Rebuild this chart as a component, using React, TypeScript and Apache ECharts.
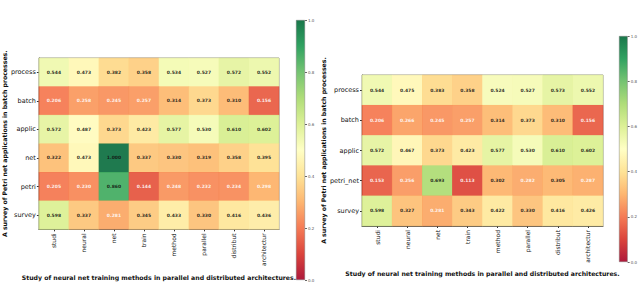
import React, { useEffect, useRef } from "react";
import * as echarts from "echarts";

const cols = ["studi", "neural", "net", "train", "method", "parallel", "distribut", "architectur"];
const rowsLeft = ["process", "batch", "applic", "net", "petri", "survey"];
const rowsRight = ["process", "batch", "applic", "petri_net", "survey"];

const valuesLeft = [
  [0.544, 0.473, 0.382, 0.358, 0.534, 0.527, 0.572, 0.552],
  [0.206, 0.258, 0.245, 0.257, 0.314, 0.373, 0.310, 0.156],
  [0.572, 0.487, 0.373, 0.423, 0.577, 0.530, 0.610, 0.602],
  [0.322, 0.473, 1.000, 0.337, 0.330, 0.319, 0.358, 0.395],
  [0.205, 0.230, 0.860, 0.144, 0.248, 0.232, 0.234, 0.298],
  [0.598, 0.337, 0.281, 0.345, 0.433, 0.330, 0.416, 0.436],
];

const valuesRight = [
  [0.544, 0.475, 0.383, 0.358, 0.524, 0.527, 0.573, 0.552],
  [0.206, 0.266, 0.245, 0.257, 0.314, 0.373, 0.310, 0.156],
  [0.572, 0.467, 0.373, 0.423, 0.577, 0.530, 0.610, 0.602],
  [0.153, 0.256, 0.693, 0.113, 0.302, 0.282, 0.305, 0.287],
  [0.598, 0.327, 0.281, 0.343, 0.422, 0.330, 0.416, 0.426],
];

const yTitle = "A survey of Petri net applications in batch processes.";
const xTitle = "Study of neural net training methods in parallel and distributed architectures.";
const colorbarTicks = [0, 0.2, 0.4, 0.6, 0.8, 1.0];

const RdYlGn = [
  "#a50026", "#d73027", "#f46d43", "#fdae61", "#fee08b", "#ffffbf",
  "#d9ef8b", "#a6d96a", "#66bd63", "#1a9850", "#006837",
];

const FONT = "DejaVu Sans";

function toCells(vals: number[][]) {
  const out: [number, number, number][] = [];
  vals.forEach((row, r) => row.forEach((v, c) => out.push([c, r, v])));
  return out;
}

export default function App() {
  const ref = useRef<HTMLDivElement>(null);
  useEffect(() => {
    document.body.style.margin = "0";
    const chart = echarts.init(ref.current!, null, { renderer: "svg" });

    const grads = () =>
      new echarts.graphic.LinearGradient(
        0, 1, 0, 0,
        RdYlGn.map((c, i) => ({ offset: i / (RdYlGn.length - 1), color: c }))
      );

    const heatX = (gridIndex: number, gap: number) => ({
      type: "category" as const,
      gridIndex,
      data: cols,
      name: xTitle,
      nameLocation: "middle" as const,
      nameGap: gap,
      nameTextStyle: { fontFamily: FONT, fontSize: 6.2, fontWeight: "bold" as const, color: "#111" },
      axisLine: { show: true, lineStyle: { color: "#555", width: 1 } },
      axisTick: { show: true, alignWithLabel: true, length: 2, lineStyle: { color: "#333" } },
      axisLabel: { rotate: 90, margin: 4, fontFamily: FONT, fontSize: 6, color: "#111" },
      splitLine: { show: false },
    });
    const heatY = (gridIndex: number, rows: string[], gap: number) => ({
      type: "category" as const,
      gridIndex,
      data: rows,
      inverse: true,
      name: yTitle,
      nameLocation: "middle" as const,
      nameGap: gap,
      nameRotate: 90,
      nameTextStyle: { fontFamily: FONT, fontSize: 6.2, fontWeight: "bold" as const, color: "#111" },
      axisLine: { show: true, lineStyle: { color: "#555", width: 1 } },
      axisTick: { show: true, alignWithLabel: true, length: 2, lineStyle: { color: "#333" } },
      axisLabel: { margin: 3, fontFamily: FONT, fontSize: 6.5, color: "#111" },
      splitLine: { show: false },
    });
    const cbX = (gridIndex: number) => ({
      type: "category" as const,
      gridIndex,
      data: [""],
      axisLine: { show: false },
      axisTick: { show: false },
      axisLabel: { show: false },
    });
    const cbY = (gridIndex: number) => ({
      type: "value" as const,
      gridIndex,
      min: 0,
      max: 1,
      interval: 0.2,
      position: "right" as const,
      axisLine: { show: false },
      axisTick: { show: true, length: 2, lineStyle: { color: "#666" } },
      axisLabel: {
        fontFamily: FONT, fontSize: 4, color: "#555", margin: 3,
        formatter: (v: number) => (colorbarTicks.some((t) => Math.abs(t - v) < 1e-6) ? v.toFixed(1) : ""),
      },
      splitLine: { show: false },
    });

    const labelStyle = {
      show: true,
      fontFamily: FONT,
      fontSize: 4.5,
      fontWeight: "bold" as const,
      formatter: (p: any) => (p.value[2] as number).toFixed(3),
      color: "#111",
    };

    const mkHeat = (idx: number, vals: number[][]) => ({
      type: "heatmap" as const,
      xAxisIndex: idx,
      yAxisIndex: idx,
      data: toCells(vals).map((d) => ({
        value: d,
        label: { color: d[2] < 0.3 ? "#fff" : "#111" },
      })),
      label: labelStyle,
      itemStyle: { borderWidth: 0, opacity: 0.88 },
      emphasis: { disabled: true },
    });

    const mkBar = (idx: number) => ({
      type: "bar" as const,
      xAxisIndex: idx,
      yAxisIndex: idx,
      data: [1],
      barWidth: "100%",
      itemStyle: { color: grads(), borderColor: "#777", borderWidth: 0.5, opacity: 0.9 },
      silent: true,
    });

    chart.setOption({
      animation: false,
      backgroundColor: "#fff",
      grid: [
        { left: 33, top: 58, width: 246, height: 183, show: true, borderColor: "#888", borderWidth: 1, containLabel: false },
        { left: 362, top: 75, width: 241, height: 151, show: true, borderColor: "#888", borderWidth: 1, containLabel: false },
        { left: 296, top: 20, width: 9, height: 260, containLabel: false },
        { left: 619, top: 36, width: 11, height: 226, containLabel: false },
      ],
      xAxis: [heatX(0, 44), heatX(1, 37), cbX(2), cbX(3)],
      yAxis: [heatY(0, rowsLeft, 27), heatY(1, rowsRight, 30), cbY(2), cbY(3)],
      visualMap: [
        { type: "continuous", min: 0, max: 1, dimension: 2, seriesIndex: [0, 1], show: false, inRange: { color: RdYlGn } },
      ],
      series: [mkHeat(0, valuesLeft), mkHeat(1, valuesRight), mkBar(2), mkBar(3)],
    });
    return () => chart.dispose();
  }, []);
  return <div ref={ref} style={{ width: 640, height: 285 }} />;
}
